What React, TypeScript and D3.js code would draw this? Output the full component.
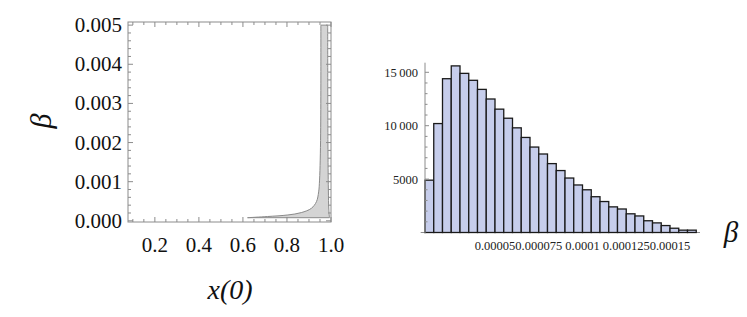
import * as d3 from 'd3';

// left panel: shaded region of beta vs x(0)
const bandLeftX = [0.621, 0.712, 0.804, 0.865, 0.911, 0.934, 0.944, 0.948, 0.951, 0.953, 0.954, 0.954];
const bandLeftB = [0.00008, 0.00011, 0.00015, 0.00021, 0.00032, 0.00049, 0.00074, 0.00104, 0.00155, 0.00224, 0.0035, 0.005];
const bandRightX = [0.985, 0.986, 0.988, 0.99, 0.993];
const bandRightB = [0.005, 0.002, 0.0008, 0.0003, 0.00008];
const leftXTicks = [0.2, 0.4, 0.6, 0.8, 1.0];
const leftYTicks = [0, 0.001, 0.002, 0.003, 0.004, 0.005];

// right panel: histogram of beta
const binStart = 0.00001;
const binWidth = 0.000005;
const counts = [
	4900, 10200, 14400, 15600, 14900, 14250, 13400, 12500, 11550, 10700, 9800, 8900, 8000, 7350, 6450, 5800,
	5100, 4450, 4000, 3350, 2900, 2400, 2200, 1750, 1550, 1100, 900, 650, 400, 220, 220,
];
const histXTicks = [0.00005, 0.000075, 0.0001, 0.000125, 0.00015];
const histXTickLabels = ['0.00005', '0.000075', '0.0001', '0.000125', '0.00015'];
const histYTicks = [5000, 10000, 15000];
const histYTickLabels = ['5000', '10\u2009000', '15\u2009000'];

const font = 'Liberation Serif';

export default function App() {
	// left scales
	const x1 = d3.scaleLinear().domain([0.078, 1.0]).range([128, 331]);
	const y1 = d3.scaleLinear().domain([-0.00003, 0.00508]).range([222, 22]);
	const [fx0, fx1] = x1.range();
	const [fy0, fy1] = y1.range();

	const curve = d3
		.line<[number, number]>()
		.x(d => x1(d[0]))
		.y(d => y1(d[1]))
		.curve(d3.curveCatmullRom);
	const leftPts: [number, number][] = bandLeftX.map((v, i) => [v, bandLeftB[i]]);
	const rightPts: [number, number][] = bandRightX.map((v, i) => [v, bandRightB[i]]);
	const bandPath = curve(leftPts) + 'L' + curve(rightPts)!.slice(1) + 'Z';

	const xMinor = d3.range(0.1, 1.0001, 0.05).filter(v => v >= 0.078);
	const yMinor = d3.range(0, 0.0050001, 0.0002);

	// right scales
	const x2 = d3.scaleLinear().domain([0, 0.0001]).range([407.5, 582.5]);
	const y2 = d3.scaleLinear().domain([0, 15000]).range([232.5, 72.3]);
	const axisX = x2(binStart);
	const yMinor2 = d3.range(1000, 15001, 1000);

	return (
		<svg width={747} height={317} style={{ position: 'absolute', left: 0, top: 0 }}>
			<rect width={747} height={317} fill="#fff" />
			{/* left panel */}
			<path d={bandPath} fill="#d4d4d4" stroke="#8a8a8a" strokeWidth={1} />
			<rect x={fx0} y={fy1} width={fx1 - fx0} height={fy0 - fy1} fill="none" stroke="#8c8c8c" strokeWidth={1} />
			{xMinor.map((v, i) => {
				const major = leftXTicks.some(t => Math.abs(t - v) < 1e-6);
				const l = major ? 5 : 3;
				return (
					<g key={'xm' + i} stroke="#8c8c8c" strokeWidth={1}>
						<line x1={x1(v)} x2={x1(v)} y1={fy0} y2={fy0 - l} />
						<line x1={x1(v)} x2={x1(v)} y1={fy1} y2={fy1 + l} />
					</g>
				);
			})}
			{yMinor.map((v, i) => {
				const major = leftYTicks.some(t => Math.abs(t - v) < 1e-8);
				const l = major ? 5 : 3;
				return (
					<g key={'ym' + i} stroke="#8c8c8c" strokeWidth={1}>
						<line x1={fx0} x2={fx0 + l} y1={y1(v)} y2={y1(v)} />
						<line x1={fx1} x2={fx1 - l} y1={y1(v)} y2={y1(v)} />
					</g>
				);
			})}
			{leftXTicks.map(t => (
				<text key={'xl' + t} x={x1(t)} y={fy0 + 30} fontFamily={font} fontSize={21} textAnchor="middle" fill="#111">
					{t.toFixed(1)}
				</text>
			))}
			{leftYTicks.map(t => (
				<text key={'yl' + t} x={fx0 - 6} y={y1(t) + 7} fontFamily={font} fontSize={21} textAnchor="end" fill="#111">
					{t.toFixed(3)}
				</text>
			))}
			<text x={230} y={299} fontFamily={font} fontSize={28} fontStyle="italic" textAnchor="middle" fill="#111">
				x(0)
			</text>
			<text
				transform="translate(51,121) rotate(-90)"
				fontFamily={font}
				fontSize={30}
				fontStyle="italic"
				textAnchor="middle"
				fill="#111"
			>
				β
			</text>

			{/* right panel: histogram */}
			<line x1={420.7} x2={700} y1={y2(0)} y2={y2(0)} stroke="#8c8c8c" strokeWidth={1} />
			{histXTicks.map(t => (
				<line key={'hx' + t} x1={x2(t)} x2={x2(t)} y1={y2(0)} y2={y2(0) - 4} stroke="#8c8c8c" />
			))}
			{counts.map((c, i) => {
				const a = binStart + i * binWidth;
				return (
					<rect
						key={'b' + i}
						x={x2(a)}
						y={y2(c)}
						width={x2(a + binWidth) - x2(a)}
						height={y2(0) - y2(c)}
						fill="#c6cdeb"
						stroke="#1a1a1a"
						strokeWidth={1.3}
					/>
				);
			})}
			<line x1={axisX} x2={axisX} y1={62.7} y2={y2(0) + 1} stroke="#8c8c8c" strokeWidth={1} />
			{yMinor2.map(v => {
				const major = histYTicks.includes(v);
				return (
					<line key={'hy' + v} x1={axisX} x2={axisX + (major ? 4 : 2.5)} y1={y2(v)} y2={y2(v)} stroke="#8c8c8c" />
				);
			})}
			{histYTicks.map((t, i) => (
				<text key={'hyl' + t} x={axisX - 7} y={y2(t) + 4.5} fontFamily={font} fontSize={12.5} textAnchor="end" fill="#222">
					{histYTickLabels[i]}
				</text>
			))}
			{histXTicks.map((t, i) => (
				<text key={'hxl' + t} x={x2(t)} y={250} fontFamily={font} fontSize={12.5} textAnchor="middle" fill="#222">
					{histXTickLabels[i]}
				</text>
			))}
			<text x={731} y={242} fontFamily={font} fontSize={29} fontStyle="italic" textAnchor="middle" fill="#111">
				β
			</text>
		</svg>
	);
}
